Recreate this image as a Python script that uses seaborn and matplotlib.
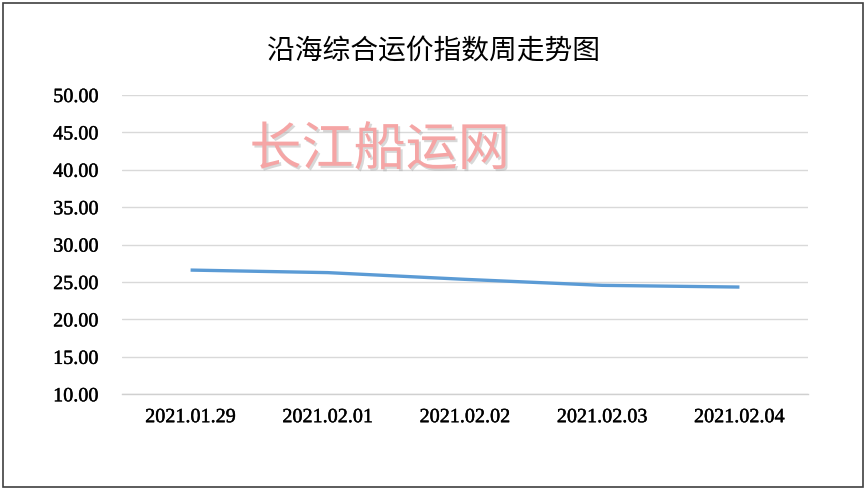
import matplotlib
matplotlib.use("Agg")
import matplotlib.pyplot as plt
import matplotlib.patheffects as pe
from matplotlib.patches import Rectangle
import pandas as pd
import seaborn as sns

# 数据
dates = ["2021.01.29", "2021.02.01", "2021.02.02", "2021.02.03", "2021.02.04"]
index_values = [26.6, 26.26, 25.36, 24.56, 24.33]
y_ticks = [10, 15, 20, 25, 30, 35, 40, 45, 50]

df = pd.DataFrame({"date": dates, "value": index_values})
df["pos"] = range(len(dates))

sns.set_theme(style="white")
plt.rcParams['font.family'] = ['Liberation Serif', 'Noto Sans CJK SC', 'DejaVu Sans']

fig = plt.figure(figsize=(8.67, 4.91), dpi=100)
ax = fig.add_axes([0.1407, 0.197, 0.7913, 0.6095])

sns.lineplot(data=df, x="pos", y="value", ax=ax, color="#5b9bd5",
             linewidth=2.4, solid_capstyle="butt")

ax.set_xlim(-0.5, len(dates) - 0.5)
ax.set_ylim(10, 50)
ax.set_yticks(y_ticks)
ax.set_yticklabels([f"{v:.2f}" for v in y_ticks])
ax.set_xticks(range(len(dates)))
ax.set_xticklabels(dates)
ax.tick_params(axis="y", length=0, pad=17, labelsize=14.5, colors="#000000")
ax.tick_params(axis="x", length=0, pad=10, labelsize=14.5, colors="#000000")
ax.set_xlabel("")
ax.set_ylabel("")

# 刻度字体稍加粗
for lbl in ax.get_xticklabels() + ax.get_yticklabels():
    lbl.set_path_effects([pe.withStroke(linewidth=0.3, foreground="#000000")])

ax.grid(axis="y", color="#d9d9d9", linewidth=1)
ax.set_axisbelow(True)
for s in ["top", "right", "left"]:
    ax.spines[s].set_visible(False)
ax.spines["bottom"].set_color("#d0d0d0")
ax.spines["bottom"].set_linewidth(1)

fig.text(0.5, 0.898, "沿海综合运价指数周走势图", ha="center", va="center",
         fontsize=20, family=["Noto Sans CJK SC"], color="#000000")

# 水印
fig.text(0.438, 0.694, "长江船运网", ha="center", va="center", fontsize=37.5,
         family=["Noto Sans CJK SC"], color="#f5a5a5",
         path_effects=[pe.withSimplePatchShadow(offset=(1.5, -1.5),
                                                shadow_rgbFace="#aaaaaa",
                                                alpha=0.45)])

fig.patches.append(Rectangle((0.004, 0.008), 0.991, 0.986, transform=fig.transFigure,
                             fill=False, edgecolor="#404040", linewidth=1.2))

fig.savefig("out.png", dpi=100)
